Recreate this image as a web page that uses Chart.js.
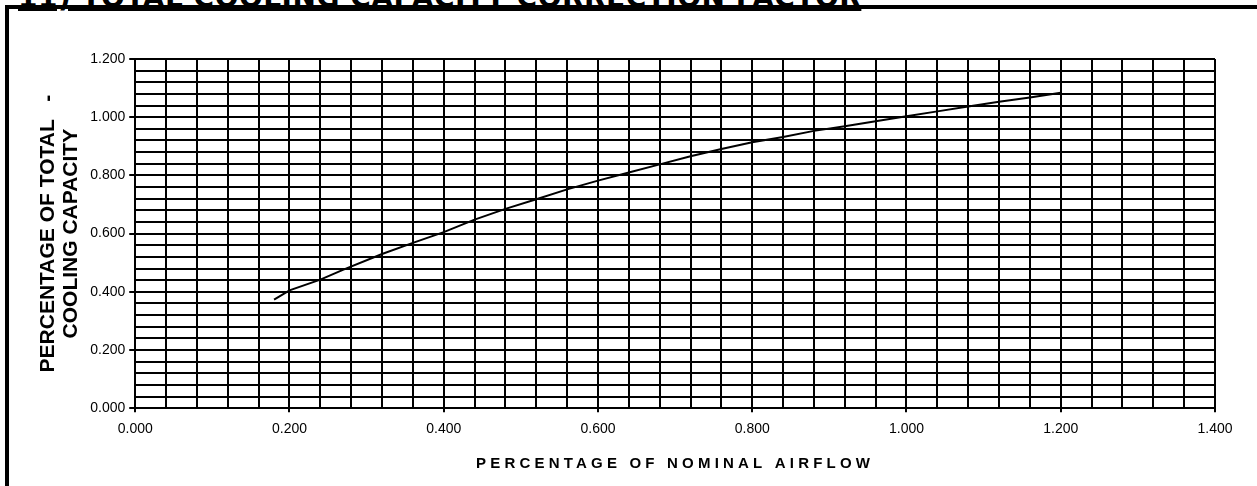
<!DOCTYPE html>
<html>
<head>
<meta charset="utf-8">
<script src="https://cdn.jsdelivr.net/npm/chart.js@4.4.1/dist/chart.umd.min.js"></script>
<style>
  html, body { margin: 0; padding: 0; background: #fff; overflow: hidden; }
  #wrap { position: absolute; left: 0; top: 0; width: 1257px; height: 486px; }
  #box { position: absolute; left: 5px; top: 5px; width: 1300px; height: 600px;
         border-left: 4px solid #000; border-top: 4px solid #000; }
  #heading { position: absolute; left: 18px; top: -19px; line-height: 1; white-space: nowrap; letter-spacing: 0.5px;
             font: bold 28px "DejaVu Sans", sans-serif; color: #000; text-decoration: underline; }
</style>
</head>
<body>
<div id="heading">11) TOTAL COOLING CAPACITY CORRECTION FACTOR</div>
<div id="box"></div>
<div id="wrap"><canvas id="chart"></canvas></div>
<script>
// nominal airflow fraction vs total cooling capacity fraction
const airflow = [0.18, 0.20, 0.24, 0.27, 0.32, 0.36, 0.40, 0.44, 0.48, 0.52, 0.56, 0.60, 0.64, 0.68,
                 0.72, 0.76, 0.80, 0.84, 0.88, 0.92, 0.96, 1.00, 1.04, 1.08, 1.12, 1.16, 1.20];
const capacity = [0.373, 0.405, 0.442, 0.476, 0.530, 0.568, 0.605, 0.648, 0.685, 0.718, 0.752, 0.782, 0.810, 0.838,
                  0.866, 0.891, 0.914, 0.932, 0.953, 0.969, 0.986, 1.003, 1.020, 1.037, 1.053, 1.068, 1.084];

const xTitle = "PERCENTAGE OF NOMINAL AIRFLOW";
const yTitle = ["PERCENTAGE OF TOTAL   -", "COOLING CAPACITY"];

const points = airflow.map((x, i) => ({ x: x, y: capacity[i] }));

const font = '"Liberation Sans", Arial, sans-serif';
const isMajor = v => Math.abs(v / 0.2 - Math.round(v / 0.2)) < 1e-6;
const fmt = v => isMajor(v) ? v.toFixed(3) : "";

// spaced-out x axis title
const spacing = {
  id: "spacing",
  beforeDraw(chart) {
    const sc = chart.scales.x;
    if (sc && !sc._spaced) {
      const orig = sc.drawTitle.bind(sc);
      sc.drawTitle = function () {
        const ctx = this.ctx;
        ctx.save();
        ctx.letterSpacing = "4.2px";
        orig();
        ctx.restore();
      };
      sc._spaced = true;
    }
  }
};

new Chart("chart", {
  type: "scatter",
  data: {
    datasets: [{
      data: points,
      showLine: true,
      borderColor: "#000",
      borderWidth: 2,
      pointRadius: 0,
      tension: 0
    }]
  },
  options: {
    responsive: true,
    maintainAspectRatio: false,
    animation: false,
    layout: { padding: { left: 37, right: 42, top: 59, bottom: 13 } },
    plugins: { legend: { display: false }, tooltip: { enabled: false } },
    scales: {
      x: {
        min: 0, max: 1.4,
        grid: {
          color: "#000", lineWidth: 2, tickLength: 4,
          tickColor: c => isMajor(c.tick.value) ? "#000" : "rgba(0,0,0,0)"
        },
        border: { color: "#000", width: 2 },
        ticks: { stepSize: 0.04, autoSkip: false, maxRotation: 0, padding: 9, color: "#000",
                 font: { family: font, size: 14 }, callback: fmt },
        title: { display: true, text: xTitle, color: "#000", padding: { top: 8, bottom: 0 },
                 font: { family: font, size: 15, weight: "bold" } }
      },
      y: {
        min: 0, max: 1.2,
        grid: {
          color: "#000", lineWidth: 2, tickLength: 6,
          tickColor: c => isMajor(c.tick.value) ? "#000" : "rgba(0,0,0,0)"
        },
        border: { color: "#000", width: 2 },
        ticks: { stepSize: 0.04, autoSkip: false, padding: 4, color: "#000",
                 font: { family: font, size: 14 }, callback: fmt },
        title: { display: true, text: yTitle, color: "#000", padding: { top: 0, bottom: 3 },
                 font: { family: font, size: 21, weight: "bold", lineHeight: 1.1 } }
      }
    }
  },
  plugins: [spacing]
});
</script>
</body>
</html>
